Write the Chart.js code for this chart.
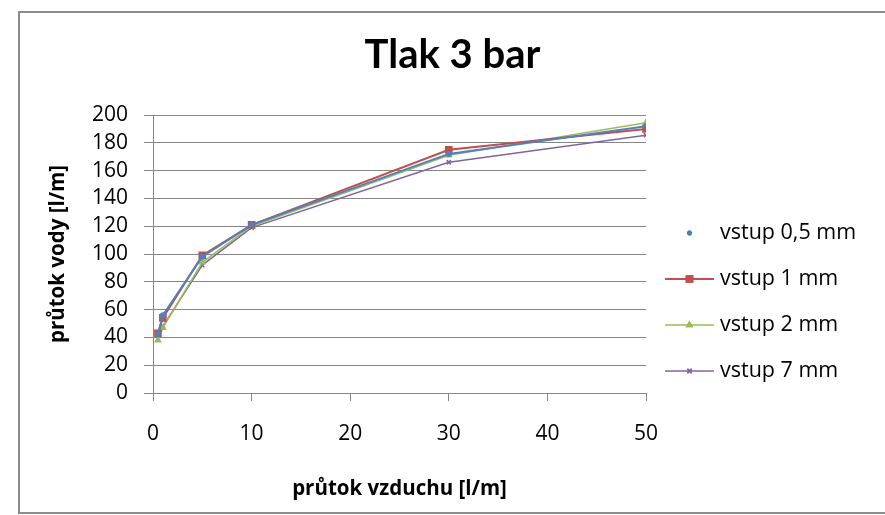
<!DOCTYPE html>
<html>
<head>
<meta charset="utf-8">
<script src="https://cdn.jsdelivr.net/npm/chart.js@4"></script>
<style>
  html, body { margin: 0; padding: 0; background: #fff; }
  #wrap { width: 885px; height: 515px; }
</style>
</head>
<body>
<div id="wrap"><canvas id="chart" width="885" height="515"></canvas></div>
<script>
var xValues = [0.5, 1, 5, 10, 30, 50];
var vstup05 = [42, 56, 98, 121, 172, 192];
var vstup1 = [43, 54, 99, 121, 175, 190];
var vstup2 = [38, 47, 94, 120, 171, 194.5];
var vstup7 = [39, 48, 92, 119, 166, 185.5];
var seriesNames = ['vstup 0,5 mm', 'vstup 1 mm', 'vstup 2 mm', 'vstup 7 mm'];
var xTicks = [0, 10, 20, 30, 40, 50];
var yTicks = [0, 20, 40, 60, 80, 100, 120, 140, 160, 180, 200];

var FONT = '"Open Sans", Lato, sans-serif';
var TITLE_FONT = 'Lato, "Open Sans", sans-serif';
var GRID = '#868686';

function pts(ys) {
    return ys.map(function (y, i) { return { x: xValues[i], y: y }; });
}

// legend drawn by hand so each entry can show line + marker like the original
var sideLegend = {
    id: 'sideLegend',
    afterDraw: function (chart) {
        var c = chart.ctx;
        var x0 = 665, x1 = 714, tx = 720;
        var rows = [233, 279, 325, 371];
        c.save();
        c.font = '21.5px ' + FONT;
        c.textBaseline = 'middle';
        chart.data.datasets.forEach(function (ds, i) {
            var y = rows[i];
            var mid = (x0 + x1) / 2;
            if (ds.legendLine) {
                c.strokeStyle = ds.borderColor;
                c.lineWidth = ds.borderWidth;
                c.beginPath();
                c.moveTo(x0, y);
                c.lineTo(x1, y);
                c.stroke();
            }
            Chart.helpers.drawPoint(c, {
                pointStyle: ds.pointStyle,
                radius: ds.pointRadius,
                borderWidth: 1
            }, mid, y);
            c.fillStyle = ds.backgroundColor;
            c.strokeStyle = ds.borderColor;
            c.fill();
            c.stroke();
            c.fillStyle = '#000';
            c.fillText(ds.label, tx, y);
        });
        c.restore();
    }
};

var frame = {
    id: 'frame',
    beforeDraw: function (chart) {
        var c = chart.ctx;
        c.save();
        c.fillStyle = '#fff';
        c.fillRect(0, 0, chart.width, chart.height);
        c.strokeStyle = '#8c8c8c';
        c.lineWidth = 2;
        c.strokeRect(19, 12, 880, 501);
        c.restore();
    }
};

var ctx = document.getElementById('chart').getContext('2d');
var myChart = new Chart(ctx, {
    type: 'scatter',
    data: {
        datasets: [{
            label: seriesNames[0],
            data: pts(vstup05),
            showLine: true,
            borderColor: '#4F81BD',
            backgroundColor: '#4F81BD',
            borderWidth: 2,
            pointStyle: 'circle',
            pointRadius: 2,
            legendLine: false
        }, {
            label: seriesNames[1],
            data: pts(vstup1),
            showLine: true,
            borderColor: '#C0504D',
            backgroundColor: '#C0504D',
            borderWidth: 2,
            pointStyle: 'rect',
            pointRadius: 4,
            legendLine: true
        }, {
            label: seriesNames[2],
            data: pts(vstup2),
            showLine: true,
            borderColor: '#9BBB59',
            backgroundColor: '#9BBB59',
            borderWidth: 1.5,
            pointStyle: 'triangle',
            pointRadius: 3,
            legendLine: true
        }, {
            label: seriesNames[3],
            data: pts(vstup7),
            showLine: true,
            borderColor: '#8064A2',
            backgroundColor: '#8064A2',
            borderWidth: 1.5,
            pointStyle: 'crossRot',
            pointRadius: 3,
            legendLine: true
        }]
    },
    options: {
        responsive: false,
        animation: false,
        layout: { padding: { left: 20, right: 0, top: 0, bottom: 0 } },
        plugins: {
            legend: { display: false },
            tooltip: { enabled: false },
            title: {
                display: true,
                text: 'Tlak 3 bar',
                color: '#000',
                font: { family: TITLE_FONT, size: 40, weight: 'bold' },
                padding: { top: 31, bottom: 36 }
            }
        },
        scales: {
            x: {
                type: 'linear',
                min: 0,
                max: 50,
                afterBuildTicks: function (s) { s.ticks = xTicks.map(function (v) { return { value: v }; }); },
                afterFit: function (s) { s.height = 122; },
                grid: { drawOnChartArea: false, drawTicks: true, tickLength: 8, color: GRID },
                border: { color: GRID },
                ticks: { color: '#000', padding: 20, autoSkip: false, font: { family: FONT, size: 21 } },
                title: {
                    display: true,
                    text: 'průtok vzduchu [l/m]',
                    color: '#000',
                    font: { family: FONT, size: 20.5, weight: 'bold' },
                    padding: { top: 0, bottom: 14 }
                }
            },
            y: {
                min: 0,
                max: 200,
                afterBuildTicks: function (s) { s.ticks = yTicks.map(function (v) { return { value: v }; }); },
                afterFit: function (s) { s.width = 133; },
                grid: { color: GRID, tickLength: 9 },
                border: { color: GRID },
                ticks: { color: '#000', padding: 16, autoSkip: false, font: { family: FONT, size: 21 } },
                title: {
                    display: true,
                    text: 'průtok vody [l/m]',
                    color: '#000',
                    font: { family: FONT, size: 20.5, weight: 'bold' },
                    padding: { top: 26, bottom: 20 }
                }
            },
            // empty right-hand axis only reserves room for the legend
            legendSpace: {
                type: 'linear',
                position: 'right',
                afterFit: function (s) { s.width = 239; },
                grid: { display: false, drawTicks: false },
                border: { display: false },
                ticks: { display: false }
            }
        }
    },
    plugins: [frame, sideLegend]
});
</script>
</body>
</html>
